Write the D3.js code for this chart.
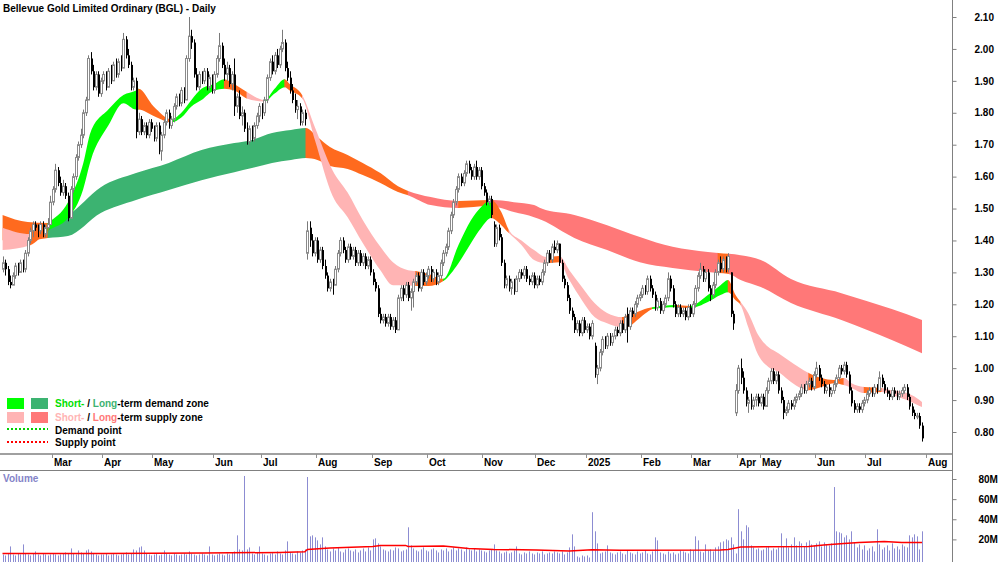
<!DOCTYPE html>
<html>
<head>
<meta charset="utf-8">
<script src="https://cdn.jsdelivr.net/npm/d3@7"></script>
<style>
  body { margin: 0; background: #fff; }
  svg text { font-family: "Liberation Sans", Arial, sans-serif; font-weight: bold; font-size: 10px; }
</style>
</head>
<body>
<svg id="chart" width="1000" height="562"></svg>
<script>
const title = "Bellevue Gold Limited Ordinary (BGL) - Daily";

// daily candles [open, high, low, close] in cents
const candles = [
[131,135,130,133],[133,134,129,131],[131,132,126,127],[127,129,125,126],[126,130,126,129],[129,133,128,132],[132,133,129,130],[130,134,130,133],[133,134,130,131],[131,137,130,136],
[136,141,135,140],[140,144,139,143],[143,146,141,145],[145,146,143,144],[144,145,141,143],[143,146,142,145],[145,146,141,142],[142,145,141,144],[144,147,143,145],[145,154,145,152],
[152,157,151,156],[156,164,155,162],[162,163,157,158],[158,160,154,155],[155,159,154,157],[157,158,153,154],[154,155,146,147],[147,157,147,156],[156,161,155,160],[160,167,159,166],
[166,171,165,170],[170,175,169,173],[173,181,172,180],[180,185,179,184],[184,198,184,197],[197,199,192,193],[193,195,187,188],[188,193,187,192],[192,193,185,186],[186,191,185,190],
[190,193,189,192],[192,193,187,188],[188,194,188,193],[193,195,189,190],[190,196,190,195],[195,197,191,192],[192,197,191,196],[196,198,193,194],[194,205,194,203],[203,204,197,198],
[198,200,194,195],[195,196,187,188],[188,191,187,190],[190,191,172,174],[174,180,173,178],[178,179,173,174],[174,177,173,176],[176,177,172,173],[173,178,172,177],[177,178,174,175],
[175,176,171,172],[172,177,171,176],[176,177,167,168],[168,174,165,173],[173,178,172,177],[177,181,176,180],[180,181,175,176],[176,179,175,178],[178,183,177,182],[182,186,181,185],
[185,186,182,183],[183,188,182,187],[187,188,183,184],[184,198,184,197],[197,210,196,204],[204,206,200,202],[202,203,191,192],[192,194,187,188],[188,193,187,192],[192,193,189,190],
[190,194,189,193],[193,194,187,188],[188,192,187,191],[191,192,186,187],[187,193,186,192],[192,198,191,197],[197,205,196,201],[201,202,194,195],[195,197,190,192],[192,196,190,194],
[194,195,188,189],[189,193,187,192],[192,197,179,182],[182,186,180,185],[185,187,178,179],[179,182,176,180],[180,181,174,175],[175,177,170,171],[171,176,170,175],[175,176,171,172],
[172,177,171,176],[176,180,175,179],[179,183,177,182],[182,183,178,180],[180,185,179,184],[184,192,183,191],[191,197,190,196],[196,198,192,193],[193,199,192,198],[198,200,194,195],
[195,201,194,200],[200,206,199,202],[202,203,193,194],[194,196,190,191],[191,193,186,187],[187,189,183,184],[184,186,180,181],[181,184,178,182],[182,183,176,177],[177,181,176,180],
[180,181,176,178],[136,146,134,143],[144,146,138,140],[140,142,135,136],[136,141,135,140],[140,141,133,134],[134,138,133,137],[137,138,131,132],[132,134,128,129],[129,130,124,125],
[125,128,124,127],[127,128,123,126],[126,132,126,131],[131,137,130,136],[136,141,135,140],[140,141,136,137],[137,138,133,134],[134,139,133,138],[138,139,134,135],[135,138,134,137],
[137,138,132,133],[133,137,132,136],[136,137,132,133],[133,136,132,135],[135,136,131,132],[132,135,131,134],[134,135,129,130],[130,131,126,127],[127,128,124,125],[125,126,116,117],
[117,119,114,115],[115,117,114,116],[116,117,113,114],[114,117,113,116],[116,117,112,113],[113,116,112,115],[115,116,111,112],[112,123,112,122],[122,126,121,125],[125,126,121,123],
[123,127,122,126],[126,127,121,122],[122,125,118,124],[124,128,119,127],[127,130,126,129],[129,130,124,125],[125,131,124,130],[130,131,126,127],[127,130,126,129],[129,132,128,131],
[131,132,127,128],[128,131,127,130],[130,131,126,127],[127,130,126,129],[129,134,128,133],[133,137,132,136],[136,139,135,138],[138,144,137,143],[143,149,142,148],[148,153,147,152],
[152,157,151,156],[156,161,155,160],[160,161,157,158],[158,162,157,161],[161,165,160,164],[164,165,161,162],[162,163,159,160],[160,164,159,163],[163,165,159,160],[160,163,159,162],
[162,163,156,157],[157,158,154,155],[155,156,151,152],[152,154,151,153],[153,154,147,148],[145,146,138,139],[139,145,138,144],[144,145,140,141],[141,142,132,133],[133,134,125,126],
[126,129,125,128],[128,129,124,125],[125,128,123,127],[127,128,123,124],[124,129,124,128],[128,131,127,130],[130,131,128,129],[129,132,128,131],[131,132,127,128],[128,129,126,127],
[127,130,126,129],[129,130,125,126],[126,129,125,128],[128,129,126,127],[127,131,126,130],[130,134,129,133],[133,137,132,136],[136,137,133,134],[134,139,133,138],[138,140,136,137],
[137,140,136,139],[139,139,132,133],[133,134,127,128],[128,129,125,126],[126,127,121,122],[122,123,117,118],[118,119,115,116],[116,117,111,112],[112,115,111,114],[114,115,110,111],
[111,116,110,115],[115,116,111,112],[112,114,111,113],[113,114,109,110],[110,115,109,114],[107,108,97,98],[98,101,95,100],[100,106,99,105],[105,110,104,109],[109,110,106,107],
[107,111,106,110],[110,111,107,108],[108,111,107,110],[110,113,109,112],[112,113,110,111],[111,115,110,114],[114,115,111,112],[112,117,111,116],[117,119,108,113],[113,119,112,118],
[118,119,116,117],[117,121,116,120],[120,123,119,122],[122,124,121,123],[123,126,122,125],[125,126,123,124],[124,129,123,128],[128,129,124,125],[125,126,122,123],[123,124,118,119],
[119,122,118,121],[121,122,117,118],[118,121,117,120],[120,123,119,122],[122,130,121,128],[128,129,124,125],[125,126,119,120],[120,121,116,117],[117,120,116,119],[119,120,116,117],
[117,119,116,118],[118,119,115,116],[116,120,115,119],[119,120,116,117],[117,121,116,120],[120,126,119,125],[125,130,124,129],[129,133,128,131],[131,132,127,128],[128,131,127,130],
[130,131,124,125],[125,126,121,123],[123,127,122,126],[126,131,125,130],[130,134,129,133],[133,135,130,131],[131,135,130,134],[134,135,130,131],[131,136,130,135],[130,130,116,117],
[117,118,112,114],[86,95,85,93],[93,101,92,100],[100,103,95,97],[97,99,92,93],[93,94,88,89],[89,91,86,90],[90,92,87,88],[88,91,87,90],[90,92,88,91],
[91,92,88,89],[89,92,88,91],[91,92,87,88],[88,94,88,93],[93,97,92,96],[96,100,95,99],[99,100,95,96],[96,99,95,98],[98,99,92,93],[93,94,89,90],
[90,91,84,86],[86,88,85,87],[87,90,86,89],[89,90,87,88],[88,91,87,90],[90,92,89,91],[91,93,90,92],[92,95,91,94],[94,95,92,93],[93,96,92,95],
[95,97,94,96],[96,97,93,94],[94,99,93,98],[98,102,97,100],[100,101,96,97],[97,98,94,95],[95,96,92,93],[93,95,92,94],[94,95,91,92],[92,94,91,93],
[93,96,92,95],[95,98,94,97],[97,101,96,100],[100,101,98,99],[99,102,98,101],[101,102,97,98],[98,99,92,93],[93,94,88,89],[89,90,86,87],[87,89,86,88],
[88,89,86,87],[87,90,86,89],[89,91,88,90],[90,93,89,92],[92,94,91,93],[93,94,91,92],[92,95,91,94],[94,95,92,93],[93,99,93,97],[97,98,94,95],
[95,96,92,93],[93,94,91,92],[92,93,90,91],[91,94,90,93],[93,94,91,92],[92,93,90,91],[91,93,90,92],[92,94,91,93],[93,95,92,94],[94,95,90,91],
[91,92,87,88],[88,89,85,86],[86,87,84,85],[85,86,84,85],[85,86,81,82],[82,83,77,78]
];

// daily volume, millions
const volumes = [
5,4,6,13,5,4,6,5,15,6,5,4,6,8,5,4,6,5,4,5,
6,5,4,5,6,7,6,11,6,5,9,7,6,9,10,8,6,5,4,5,
5,6,4,5,6,5,4,5,6,7,5,6,10,9,12,13,9,6,5,4,
5,6,4,5,9,6,5,4,6,5,4,5,6,5,8,6,5,4,5,6,
5,4,13,5,4,5,6,5,4,6,5,7,8,24,10,9,83,10,12,6,
5,7,13,6,5,4,6,7,5,8,6,5,9,18,7,6,5,8,7,9,
10,82,23,24,22,19,15,22,13,10,8,11,9,12,8,7,10,11,9,8,
10,7,9,11,8,12,9,20,21,16,13,10,9,8,10,9,12,11,8,9,
10,32,14,11,9,8,10,12,9,8,10,11,9,7,10,9,11,8,10,12,
9,11,10,8,12,10,9,11,8,10,9,8,7,9,10,15,9,8,6,7,
8,6,7,9,13,6,5,7,6,8,6,5,7,6,8,5,6,7,6,8,
7,6,8,5,7,12,25,13,3,2,4,3,4,2,47,28,16,6,7,8,
14,7,6,5,7,8,6,5,9,7,6,5,8,6,7,9,6,5,8,22,
19,7,6,5,8,6,7,5,6,9,8,7,6,10,9,23,19,8,7,15,
9,10,8,12,13,17,18,20,19,22,15,6,50,28,20,34,32,14,12,10,
11,9,10,12,13,9,11,10,12,26,13,21,12,15,22,14,18,16,13,17,
19,15,14,16,18,13,17,15,14,16,72,28,27,26,22,24,20,28,17,12,
15,10,14,9,11,13,8,30,15,10,12,14,9,16,11,13,10,15,13,12,
24,22,25,23,10,28
];

// volume moving average [day index, millions]
const volumeAvg = [
[0,6],[40,6],[80,6.5],[110,7],[120,7.7],[121,10],[130,11.5],[147,13],[150,14],[160,14],[161,13],
[175,13.3],[185,11],[195,10],[212,9.5],[225,8.5],[234,9.7],[245,9.3],[285,9.5],[288,10],[293,12.5],
[320,13],[326,14.5],[334,16],[340,17],[350,18],[357,17],[365,17]
];

// short-term band [day index, top, bottom, zone of following stretch]
const shortBand = [
[0,1.44,1.37,"ss"],[11,1.42,1.385,"mx"],[18,1.455,1.43,"sd"],[26,1.52,1.47,"sd"],[32,1.64,1.56,"sd"],
[35,1.74,1.65,"sd"],[42,1.81,1.76,"sd"],[48,1.856,1.83,"sd"],[53,1.87,1.81,"sd"],[54,1.875,1.81,"mx"],
[60,1.82,1.79,"mx"],[67,1.78,1.77,"sd"],[71,1.80,1.785,"sd"],[75,1.84,1.82,"sd"],[79,1.875,1.84,"sd"],
[84,1.89,1.87,"sd"],[88,1.905,1.875,"mx"],[92,1.89,1.87,"mx"],[97,1.865,1.845,"ss"],[104,1.84,1.835,"sd"],
[108,1.875,1.86,"sd"],[112,1.905,1.88,"mx"],[114,1.89,1.87,"mx"],[119,1.855,1.845,"ss"],[124,1.755,1.715,"ss"],
[131,1.62,1.54,"ss"],[137,1.55,1.473,"ss"],[143,1.464,1.392,"ss"],[150,1.38,1.307,"ss"],[155,1.332,1.26,"ss"],
[161,1.307,1.26,"ss"],[164,1.304,1.257,"mx"],[169,1.295,1.257,"mx"],[175,1.28,1.273,"sd"],[181,1.386,1.329,"sd"],
[186,1.464,1.392,"sd"],[190,1.505,1.439,"sd"],[194,1.527,1.47,"mx"],[198,1.489,1.448,"mx"],[201,1.433,1.423,"ss"],
[206,1.40,1.386,"ss"],[211,1.37,1.339,"ss"],[216,1.348,1.329,"mx"],[221,1.351,1.332,"ss"],[225,1.307,1.276,"ss"],
[230,1.254,1.213,"ss"],[235,1.204,1.16,"ss"],[240,1.173,1.141,"ss"],[246,1.16,1.129,"mx"],[248,1.166,1.129,"mx"],
[252,1.176,1.151,"mx"],[256,1.188,1.176,"mx"],[258,1.191,1.185,"sd"],[267,1.198,1.191,"mx"],[273,1.195,1.188,"sd"],
[280,1.229,1.207,"sd"],[285,1.26,1.229,"sd"],[288,1.276,1.238,"mx"],[291,1.229,1.213,"mx"],[293,1.207,1.198,"ss"],
[296,1.173,1.129,"ss"],[300,1.104,1.041,"ss"],[304,1.066,1.004,"ss"],[308,1.047,0.988,"ss"],[312,1.025,0.963,"ss"],
[316,1.004,0.941,"ss"],[320,0.985,0.931,"mx"],[325,0.969,0.941,"mx"],[330,0.963,0.953,"mx"],[334,0.969,0.947,"ss"],
[337,0.953,0.938,"ss"],[342,0.941,0.922,"mx"],[349,0.938,0.925,"ss"],[353,0.931,0.916,"ss"],[359,0.922,0.90,"ss"],
[363,0.906,0.885,"ss"],[365,0.894,0.878,"ss"]
];

// long-term band [day index, top, bottom, zone of following stretch]
const longBand = [
[0,1.48,1.401,"mx"],[10,1.458,1.401,"mx"],[18,1.455,1.408,"ld"],[26,1.48,1.414,"ld"],[39,1.567,1.486,"ld"],
[53,1.611,1.527,"ld"],[66,1.643,1.558,"ld"],[79,1.683,1.589,"ld"],[92,1.705,1.614,"ld"],[99,1.715,1.627,"ld"],
[107,1.737,1.643,"ld"],[114.5,1.746,1.652,"ld"],[120.4,1.752,1.658,"mx"],[125,1.724,1.652,"mx"],[130,1.693,1.633,"mx"],
[137,1.668,1.624,"mx"],[143,1.643,1.605,"mx"],[150,1.611,1.58,"mx"],[157,1.57,1.552,"mx"],[161,1.555,1.542,"ls"],
[170,1.536,1.511,"ls"],[181,1.524,1.502,"mx"],[193,1.527,1.508,"mx"],[195,1.527,1.506,"ls"],[203,1.52,1.489,"ls"],
[211,1.511,1.473,"ls"],[214,1.50,1.464,"ls"],[227,1.48,1.408,"ls"],[240,1.448,1.37,"ls"],[253,1.411,1.332,"ls"],
[266,1.38,1.314,"ls"],[280,1.364,1.301,"ls"],[284,1.361,1.298,"mx"],[288.3,1.358,1.295,"ls"],[293,1.354,1.276,"ls"],
[301,1.339,1.254,"ls"],[313,1.279,1.204,"ls"],[333,1.235,1.151,"ls"],[353,1.185,1.088,"ls"],[365,1.151,1.047,"ls"]
];

// month labels at the first trading day of each month
const months = [
["Mar",20],["Apr",40],["May",60],["Jun",84],["Jul",103],["Aug",125],["Sep",147],["Oct",169],["Nov",191],
["Dec",212],["2025",232],["Feb",254],["Mar",274],["Apr",292],["May",301],["Jun",323],["Jul",343],["Aug",367]
];
const priceTicks = [0.8,0.9,1.0,1.1,1.2,1.3,1.4,1.5,1.6,1.7,1.8,1.9,2.0,2.1];
const volumeTicks = [20,40,60,80];

const zoneColors = { sd: "#00ff00", ld: "#3cb371", ss: "#ffb4b4", ls: "#ff7878", mx: "#ff6a1e" };

const svg = d3.select("#chart");
const defs = svg.append("defs");

const x = d3.scaleLinear().domain([0, 365]).range([2.5, 922]);
const step = x(1) - x(0);
const y = d3.scaleLinear().domain([0.8, 2.1]).range([432, 17]);
const yv = d3.scaleLinear().domain([0, 80]).range([559.5, 479]);

// title
svg.append("text").attr("x", 3).attr("y", 12).attr("fill", "#000").text(title);

// bands
let clipN = 0;
function drawBand(nodes) {
  const area = d3.area()
    .x(d => x(d[0]))
    .y0(d => y(d[2]))
    .y1(d => y(d[1]))
    .curve(d3.curveMonotoneX);
  const pathD = area(nodes);
  let s = 0;
  for (let k = 1; k < nodes.length; k++) {
    if (k === nodes.length - 1 || nodes[k][3] !== nodes[s][3]) {
      const id = "bandclip" + (clipN++);
      defs.append("clipPath").attr("id", id)
        .append("rect")
        .attr("x", x(nodes[s][0]) - 0.3)
        .attr("width", x(nodes[k][0]) - x(nodes[s][0]) + 0.6)
        .attr("y", 0).attr("height", 460);
      svg.append("path")
        .attr("d", pathD)
        .attr("fill", zoneColors[nodes[s][3]])
        .attr("clip-path", "url(#" + id + ")");
      s = k;
    }
  }
}
drawBand(longBand);
drawBand(shortBand);

// candles
const cg = svg.append("g");
candles.forEach((c, i) => {
  const cx = Math.round(x(i));
  const up = c[3] >= c[0];
  cg.append("line")
    .attr("x1", cx + 0.5).attr("x2", cx + 0.5)
    .attr("y1", y(c[1] / 100)).attr("y2", y(c[2] / 100))
    .attr("stroke", up ? "#7a7a7a" : "#000").attr("stroke-width", 1);
  const top = y(Math.max(c[0], c[3]) / 100);
  const bot = y(Math.min(c[0], c[3]) / 100);
  if (up) {
    cg.append("rect")
      .attr("x", cx - 0.5).attr("width", 2)
      .attr("y", top).attr("height", Math.max(bot - top, 1))
      .attr("fill", "#fff").attr("stroke", "#8a8a8a").attr("stroke-width", 1);
  } else {
    cg.append("rect")
      .attr("x", cx).attr("width", 2)
      .attr("y", top).attr("height", Math.max(bot - top, 1))
      .attr("fill", "#000");
  }
});

// frame lines
svg.append("line").attr("x1", 0).attr("x2", 952).attr("y1", 454).attr("y2", 454)
  .attr("stroke", "#a0a0a0").attr("stroke-width", 2);
svg.append("line").attr("x1", 0).attr("x2", 952).attr("y1", 470.5).attr("y2", 470.5)
  .attr("stroke", "#808080").attr("stroke-width", 1);
svg.append("line").attr("x1", 952.5).attr("x2", 952.5).attr("y1", 0).attr("y2", 562)
  .attr("stroke", "#808080").attr("stroke-width", 1);

// month axis
months.forEach(m => {
  const tx = Math.round(x(m[1]) - step / 2) + 0.5;
  svg.append("line").attr("x1", tx).attr("x2", tx).attr("y1", 454).attr("y2", 458)
    .attr("stroke", "#909090");
  svg.append("text").attr("x", tx + 1.5).attr("y", 466).attr("fill", "#000").text(m[0]);
});

// price axis
const pAxis = d3.axisRight(y).tickValues(priceTicks).tickFormat(d3.format(".2f"))
  .tickSize(4).tickPadding(18);
const pg = svg.append("g").attr("transform", "translate(952.5,0)").call(pAxis);
pg.select(".domain").remove();
pg.selectAll(".tick line").attr("stroke", "#808080");
pg.selectAll(".tick text").attr("fill", "#000").style("font-size", "10px")
  .style("font-family", "'Liberation Sans', Arial, sans-serif").style("font-weight", "bold");

// volume panel
svg.append("text").attr("x", 3).attr("y", 482).attr("fill", "#8484c8").text("Volume");
const vg = svg.append("g");
volumes.forEach((v, i) => {
  const cx = Math.round(x(i));
  vg.append("rect").attr("x", cx).attr("width", 1)
    .attr("y", yv(v)).attr("height", 562 - yv(v))
    .attr("fill", "#8c8cd2");
});
svg.append("path")
  .attr("d", d3.line().x(d => x(d[0])).y(d => yv(d[1]))(volumeAvg))
  .attr("fill", "none").attr("stroke", "#ff0000").attr("stroke-width", 1.5);

const vAxis = d3.axisRight(yv).tickValues(volumeTicks).tickFormat(d => d + "M")
  .tickSize(4).tickPadding(22);
const vga = svg.append("g").attr("transform", "translate(952.5,0)").call(vAxis);
vga.select(".domain").remove();
vga.selectAll(".tick line").attr("stroke", "#808080");
vga.selectAll(".tick text").attr("fill", "#000").style("font-size", "10px")
  .style("font-family", "'Liberation Sans', Arial, sans-serif").style("font-weight", "bold");

// legend
const lg = svg.append("g");
lg.append("rect").attr("x", 7).attr("y", 398).attr("width", 17).attr("height", 11).attr("fill", zoneColors.sd);
lg.append("rect").attr("x", 31).attr("y", 398).attr("width", 17).attr("height", 11).attr("fill", zoneColors.ld);
lg.append("rect").attr("x", 7).attr("y", 412).attr("width", 17).attr("height", 11).attr("fill", zoneColors.ss);
lg.append("rect").attr("x", 31).attr("y", 412).attr("width", 17).attr("height", 11).attr("fill", zoneColors.ls);
lg.append("line").attr("x1", 7).attr("x2", 48).attr("y1", 429).attr("y2", 429)
  .attr("stroke", "#00d000").attr("stroke-width", 2).attr("stroke-dasharray", "2,2");
lg.append("line").attr("x1", 7).attr("x2", 48).attr("y1", 442).attr("y2", 442)
  .attr("stroke", "#ff0000").attr("stroke-width", 2).attr("stroke-dasharray", "2,2");

function legendText(yPos, parts) {
  const t = lg.append("text").attr("x", 55).attr("y", yPos);
  parts.forEach(p => t.append("tspan").attr("fill", p[1]).text(p[0]));
}
legendText(407, [["Short-", "#00e000"], [" / ", "#000"], ["Long", "#3cb371"], ["-term demand zone", "#000"]]);
legendText(420.5, [["Short-", "#ffb4b4"], [" / ", "#000"], ["Long", "#ff7878"], ["-term supply zone", "#000"]]);
legendText(433.5, [["Demand point", "#000"]]);
legendText(446, [["Supply point", "#000"]]);
</script>
</body>
</html>
